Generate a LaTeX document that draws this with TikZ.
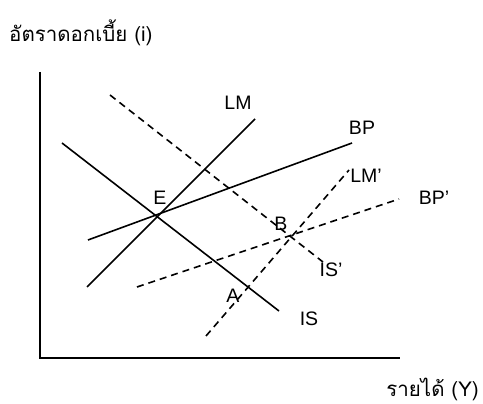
\documentclass[tikz,border=0pt]{standalone}
\usepackage{fontspec}
\setmainfont{Liberation Sans}
\newfontfamily\thaifont[Script=Thai]{Loma}
\begin{document}
\begin{tikzpicture}[x=1pt,y=-1pt,
  curve/.style={line width=1.6pt},
  dcurve/.style={line width=1.6pt,dash pattern=on 7pt off 5pt},
  lbl/.style={font=\fontsize{19.5}{23}\selectfont,inner sep=0pt},
  tlbl/.style={font=\thaifont\fontsize{20.5}{24}\selectfont,inner sep=0pt}]
\useasboundingbox (0,0) rectangle (483,404);
% axes
\coordinate (top) at (40,72);
\coordinate (origin) at (40,358);
\coordinate (right) at (400,358);
\draw[line width=1.6pt] (top) -- (origin) -- (right);
% curve ends
\coordinate (LMa) at (87,287);   \coordinate (LMb) at (255,119);
\coordinate (BPa) at (88,240);   \coordinate (BPb) at (352,143);
\coordinate (ISa) at (62,143);   \coordinate (ISb) at (279,311);
\coordinate (ISpa) at (110,95);  \coordinate (ISpb) at (323,262);
\coordinate (LMpa) at (206,336); \coordinate (LMpb) at (349,170);
\coordinate (BPpa) at (137,287); \coordinate (BPpb) at (399,199);
\draw[curve] (LMa) -- (LMb);
\draw[curve] (BPa) -- (BPb);
\draw[curve] (ISa) -- (ISb);
\draw[dcurve] (ISpa) -- (ISpb);
\draw[dcurve] (LMpa) -- (LMpb);
\draw[dcurve] (BPpa) -- (BPpb);
% labels
\node[tlbl,anchor=west] (yl) at (9,33) {อัตราดอกเบี้ย (i)};
\node[tlbl,anchor=east] (xl) at (479,389) {รายได้ (Y)};
\node[lbl] (tLM) at (238,103) {LM};
\node[lbl] (tBP) at (362,128) {BP};
\node[lbl] (tLMp) at (366,176) {LM’};
\node[lbl] (tBPp) at (434,198) {BP’};
\node[lbl] (tE) at (160,198) {E};
\node[lbl] (tB) at (281,224) {B};
\node[lbl] (tISp) at (331,270) {IS’};
\node[lbl] (tA) at (233,296) {A};
\node[lbl] (tIS) at (309,319) {IS};
\end{tikzpicture}
\end{document}
